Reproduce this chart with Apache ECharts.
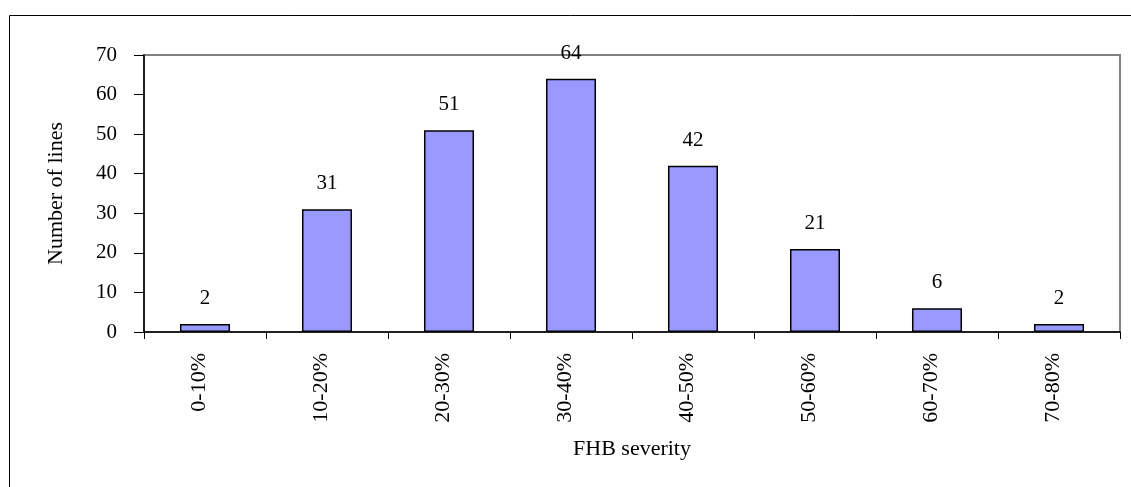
<!DOCTYPE html>
<html>
<head>
<meta charset="utf-8">
<script src="https://cdn.jsdelivr.net/npm/echarts@6/dist/echarts.min.js"></script>
<style>
html,body{margin:0;padding:0;background:#fff;}
#c{width:1131px;height:487px;}
</style>
</head>
<body>
<div id="c"></div>
<script>
const categories = ['0-10%','10-20%','20-30%','30-40%','40-50%','50-60%','60-70%','70-80%'];
const lineCounts = [2,31,51,64,42,21,6,2];
const yTicks = {min:0, max:70, interval:10};

const FONT = '"Liberation Serif", "Times New Roman", serif';
const chart = echarts.init(document.getElementById('c'), null, {renderer:'canvas'});
chart.setOption({
  animation:false,
  backgroundColor:'#fff',
  graphic:[{
    type:'rect', silent:true,
    shape:{x:9.5,y:15.5,width:1200,height:600},
    style:{fill:null, stroke:'#000', lineWidth:1}
  }],
  grid:{left:144, right:11, top:55, bottom:155, show:true, borderColor:'#808080', borderWidth:2, backgroundColor:'transparent'},
  xAxis:{
    type:'category', data:categories,
    name:'FHB severity', nameLocation:'middle', nameGap:106,
    nameTextStyle:{fontFamily:FONT, fontSize:22, color:'#000'},
    axisLine:{lineStyle:{color:'#000', width:1.5}},
    axisTick:{show:true, alignWithLabel:false, length:7, lineStyle:{color:'#000'}},
    axisLabel:{rotate:90, margin:21, fontFamily:FONT, fontSize:22, color:'#000', lineHeight:12, verticalAlign:'bottom'},
    splitLine:{show:false}
  },
  yAxis:{
    type:'value', min:yTicks.min, max:yTicks.max, interval:yTicks.interval,
    name:'Number of lines', nameLocation:'middle', nameGap:77, nameRotate:90,
    nameTextStyle:{fontFamily:FONT, fontSize:22, color:'#000'},
    axisLine:{show:true, lineStyle:{color:'#000', width:1.5}},
    axisTick:{show:true, length:10, lineStyle:{color:'#000'}},
    axisLabel:{margin:27, fontFamily:FONT, fontSize:21, color:'#000'},
    splitLine:{show:false}
  },
  series:[{
    type:'bar', data:lineCounts, barWidth:'41%',
    itemStyle:{color:'#9999FF', borderColor:'#000', borderWidth:1.5},
    label:{show:true, position:'top', distance:15, fontFamily:FONT, fontSize:21, color:'#000'}
  }]
});
</script>
</body>
</html>
